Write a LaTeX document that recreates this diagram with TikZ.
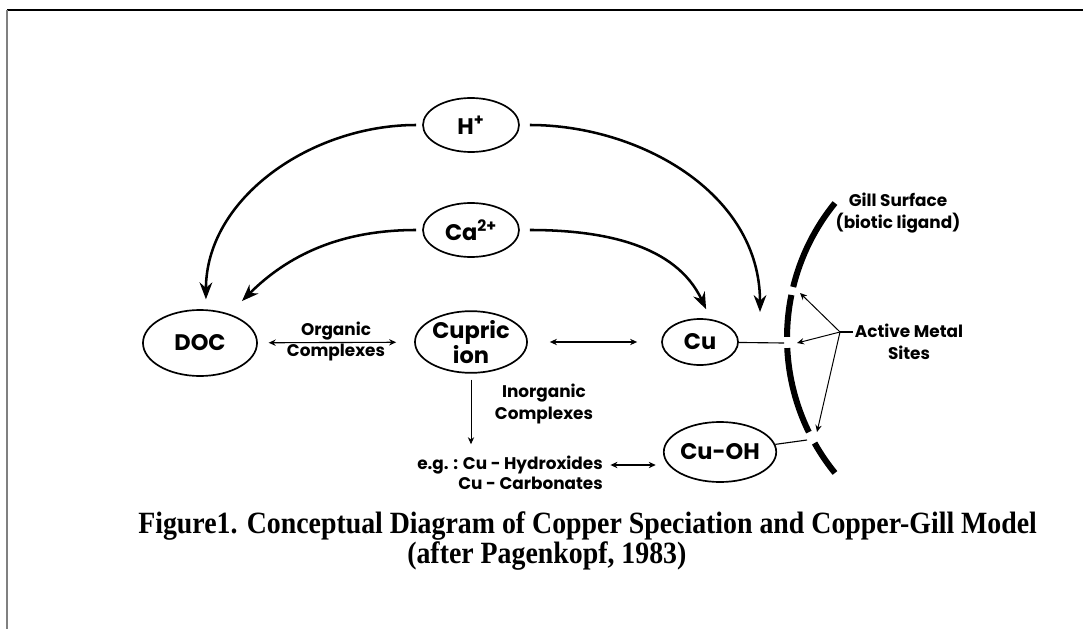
\documentclass[tikz,border=0pt]{standalone}
\usepackage{fontspec}
\setmainfont{Poppins}
\newfontfamily\capfont[FakeStretch=0.9]{Liberation Serif}
\usetikzlibrary{arrows.meta}
\usetikzlibrary{shapes.geometric}
\usetikzlibrary{positioning}
\usetikzlibrary{calc}
\tikzset{
    species/.style={draw=black, ellipse, line width=1.2pt, inner sep=0pt, align=center,
        font=\fontsize{16}{15}\selectfont\bfseries},
    binding/.style={draw=black, line width=1.8pt, -{Stealth[length=12pt,width=9pt]}},
    exchange/.style={draw=black, line width=0.8pt,
        {Stealth[length=5pt,width=4.5pt]}-{Stealth[length=5pt,width=4.5pt]}},
    onearrow/.style={draw=black, line width=0.7pt, -{Stealth[length=5pt,width=4.5pt]}},
    bond/.style={draw=black, line width=0.8pt},
    gill/.style={draw=black, line width=4.3pt},
    note/.style={align=center, inner sep=1pt, font=\fontsize{12}{16}\selectfont\bfseries},
    caption/.style={anchor=base west, inner sep=0pt, font=\capfont\bfseries\fontsize{22}{22}\selectfont},
}

\begin{document}
\begin{tikzpicture}[x=0.025cm, y=-0.025cm]
	\useasboundingbox (0,0) rectangle (1083,629);
	% frame
	\draw[line width=1pt] (7,10) -- (1083,10);
	\draw[gray, line width=1.5pt] (7,10) -- (7,629);

	% species
	\node[species, minimum width=2.4cm, minimum height=1.35cm] (hplus) at (471,125) {H\textsuperscript{+}};
	\node[species, minimum width=2.4cm, minimum height=1.35cm] (calcium) at (471,230) {Ca\textsuperscript{2+}};
	\node[species, minimum width=2.85cm, minimum height=1.65cm] (doc) at (200,343) {DOC};
	\node[species, minimum width=2.8cm, minimum height=1.5cm] (cupric) at (471,342) {Cupric\\ion};
	\node[species, minimum width=1.9cm, minimum height=1.15cm] (cu) at (700,342) {Cu};
	\node[species, minimum width=2.65cm, minimum height=1.5cm] (cuoh) at (720,452) {Cu-OH};

	% labels
	\node[note] (hydrox) at (510,465) {e.g. : Cu - Hydroxides};
	\node[note, anchor=north east] (carbon) at (hydrox.south east) {Cu - Carbonates};
	\node[note] (inorg) at (544,404) {Inorganic\\Complexes};
	\node[note] (gilltext) at (898,213) {Gill Surface\\(biotic ligand)};
	\node[note] (sites) at (909,342) {Active Metal\\Sites};

	% gill surface
	\coordinate (gc) at (1001,338);
	\foreach \a/\b in {219.1/193.8, 191.6/180.3, 177.3/153.9, 150.6/140.9}
		\draw[gill] ($(gc)+(\a:214)$) arc[start angle=\a, end angle=\b, radius=214];
	\coordinate (cusite) at (784,343);
	\coordinate (ohsite) at (807,440);
	\coordinate (hsite) at (760,312);
	\coordinate (hub) at (840,332);
	\coordinate (tip1) at (800,293);
	\coordinate (tip2) at (797,343);
	\coordinate (tip3) at (817,432);

	% competition for binding
	\draw[binding, shorten <=0.15cm, shorten >=0.25cm] (hplus.west) to[out=180, in=90] (doc.80);
	\draw[binding, shorten <=0.15cm, shorten >=0.45cm] (calcium.west) to[out=180, in=45] (doc.45);
	\draw[binding, shorten <=0.25cm, shorten >=0.27cm] (calcium.east) to[out=0, in=115] (cu.65);
	\draw[binding, shorten <=0.25cm] (hplus.east) to[out=0, in=90] (hsite);

	% speciation
	\draw[exchange, shorten <=0.27cm, shorten >=0.45cm] (doc) -- node[note, above]{Organic} node[note, below]{Complexes} (cupric);
	\draw[exchange, shorten <=0.55cm, shorten >=0.6cm] (cupric) -- (cu);
	\draw[onearrow, shorten <=0.15cm, shorten >=0.25cm] (cupric) -- (cupric |- hydrox.north);
	\draw[exchange, shorten <=0.15cm, shorten >=0.18cm] (hydrox.east) -- (hydrox.east -| cuoh.west);
	\draw[bond] (cu) -- (cusite);
	\draw[bond] (cuoh) -- (ohsite);

	% active sites
	\draw[bond] (sites.west |- hub) -- (hub);
	\foreach \t in {tip1,tip2,tip3}
		\draw[onearrow] (hub) -- (\t);

	% caption
	\node[caption] (title) at (138,533) {Figure1. Conceptual Diagram of Copper Speciation and Copper-Gill Model};
	\node[caption] (after) at (407,563) {(after Pagenkopf, 1983)};
\end{tikzpicture}
\end{document}
